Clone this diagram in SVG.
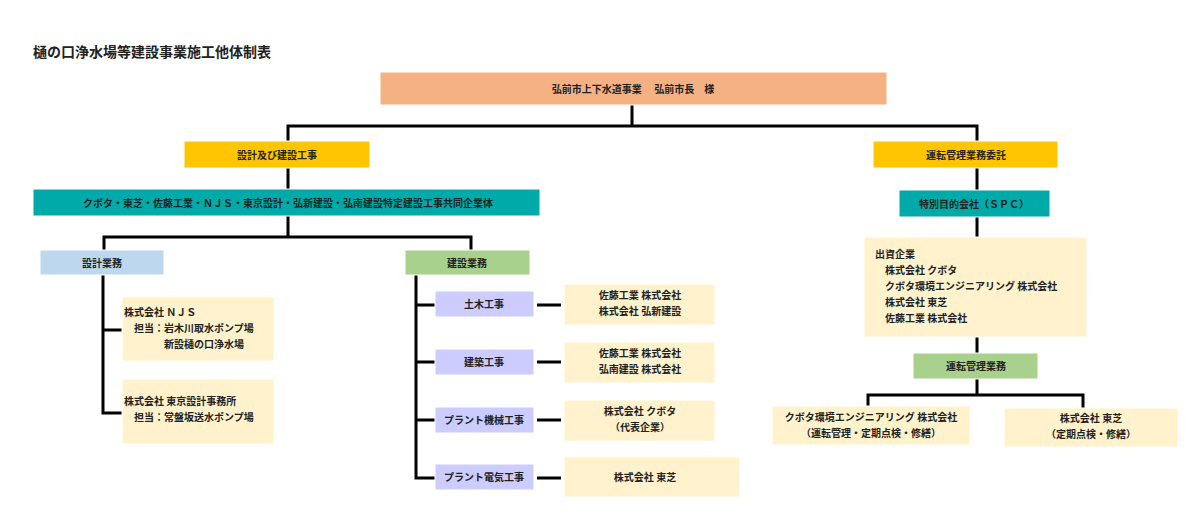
<svg xmlns="http://www.w3.org/2000/svg" width="1200" height="528" viewBox="0 0 1200 528">
<style>
text{font-family:"Noto Sans CJK JP","Noto Sans",sans-serif;font-weight:bold;font-size:10px;fill:#222}
.c{text-anchor:middle}
.ln{stroke:#000;stroke-width:3;fill:none}
.bx{stroke:#ffffff;stroke-width:1}
</style>
<rect width="1200" height="528" fill="#fff"/>
<text x="33" y="57" style="font-size:14px">樋の口浄水場等建設事業施工他体制表</text>
<g id="connectors">
<path class="ln" d="M632 105V126M288 141V126H977V141M288 168V189M288 216V237M104 250V237H471V250M103 275V413H122M103 330H122M416 275V478H435M416 305H435M416 362H435M416 420H435M537 305H561M537 362H561M537 420H561M537 478H561M977 168V190M977 217V237M977 337V353M977 379V395M868 408V395H1083V408"/>
</g>
<g id="top"><rect class="bx" x="380" y="72" width="507" height="33" fill="#F4B184"/><text class="c" x="633" y="93">弘前市上下水道事業　 弘前市長　様</text></g>
<g id="sekkei-kensetsu"><rect class="bx" x="184" y="141" width="186" height="27" fill="#FFC600"/><text class="c" x="277" y="159">設計及び建設工事</text></g>
<g id="jv"><rect class="bx" x="33" y="189" width="507" height="27" fill="#00AAA8"/><text class="c" x="288" y="207">クボタ・東芝・佐藤工業・ＮＪＳ・東京設計・弘新建設・弘南建設特定建設工事共同企業体</text></g>
<g id="sekkei"><rect class="bx" x="40" y="250" width="124" height="25" fill="#BDD7EE"/><text class="c" x="102" y="267">設計業務</text></g>
<g id="kensetsu"><rect class="bx" x="405" y="250" width="125" height="25" fill="#A9D18E"/><text class="c" x="467" y="267">建設業務</text></g>
<g id="njs"><rect class="bx" x="122" y="297" width="152" height="64" fill="#FFF2CC"/><text x="124" y="316">株式会社 ＮＪＳ</text><text x="134" y="332">担当：岩木川取水ポンプ場</text><text x="164" y="348">新設樋の口浄水場</text></g>
<g id="tokyo"><rect class="bx" x="122" y="379" width="152" height="65" fill="#FFF2CC"/><text x="124" y="405">株式会社 東京設計事務所</text><text x="134" y="421">担当：常盤坂送水ポンプ場</text></g>
<g id="doboku"><rect class="bx" x="435" y="291" width="99" height="26" fill="#CCCCFF"/><text class="c" x="484" y="308">土木工事</text></g>
<g id="kenchiku"><rect class="bx" x="435" y="349" width="99" height="26" fill="#CCCCFF"/><text class="c" x="484" y="366">建築工事</text></g>
<g id="kikai"><rect class="bx" x="435" y="407" width="99" height="26" fill="#CCCCFF"/><text class="c" x="484" y="424">プラント機械工事</text></g>
<g id="denki"><rect class="bx" x="435" y="464" width="99" height="26" fill="#CCCCFF"/><text class="c" x="484" y="481">プラント電気工事</text></g>
<g id="doboku-co"><rect class="bx" x="564" y="284" width="151" height="41" fill="#FFF2CC"/><text class="c" x="640" y="299">佐藤工業 株式会社</text><text class="c" x="640" y="315">株式会社 弘新建設</text></g>
<g id="kenchiku-co"><rect class="bx" x="564" y="342" width="151" height="41" fill="#FFF2CC"/><text class="c" x="640" y="357">佐藤工業 株式会社</text><text class="c" x="640" y="373">弘南建設 株式会社</text></g>
<g id="kikai-co"><rect class="bx" x="564" y="400" width="151" height="41" fill="#FFF2CC"/><text class="c" x="640" y="415">株式会社 クボタ</text><text class="c" x="640" y="431">（代表企業）</text></g>
<g id="denki-co"><rect class="bx" x="564" y="457" width="176" height="40" fill="#FFF2CC"/><text class="c" x="645" y="481">株式会社 東芝</text></g>
<g id="unten-itaku"><rect class="bx" x="873" y="141" width="185" height="27" fill="#FFC600"/><text class="c" x="966" y="159">運転管理業務委託</text></g>
<g id="spc"><rect class="bx" x="899" y="190" width="151" height="27" fill="#00AAA8"/><text class="c" x="974" y="208">特別目的会社（ＳＰＣ）</text></g>
<g id="shusshi"><rect class="bx" x="864" y="237" width="223" height="100" fill="#FFF2CC"/><text x="875" y="258">出資企業</text><text x="885" y="274">株式会社 クボタ</text><text x="885" y="290">クボタ環境エンジニアリング 株式会社</text><text x="885" y="306">株式会社 東芝</text><text x="885" y="322">佐藤工業 株式会社</text></g>
<g id="unten"><rect class="bx" x="913" y="353" width="125" height="26" fill="#A9D18E"/><text class="c" x="976" y="370">運転管理業務</text></g>
<g id="kubota-kankyo"><rect class="bx" x="772" y="406" width="198" height="39" fill="#FFF2CC"/><text class="c" x="871" y="421">クボタ環境エンジニアリング 株式会社</text><text class="c" x="871" y="437">（運転管理・定期点検・修繕）</text></g>
<g id="toshiba"><rect class="bx" x="1004" y="408" width="174" height="39" fill="#FFF2CC"/><text class="c" x="1091" y="422">株式会社 東芝</text><text class="c" x="1091" y="438">（定期点検・修繕）</text></g>
</svg>
